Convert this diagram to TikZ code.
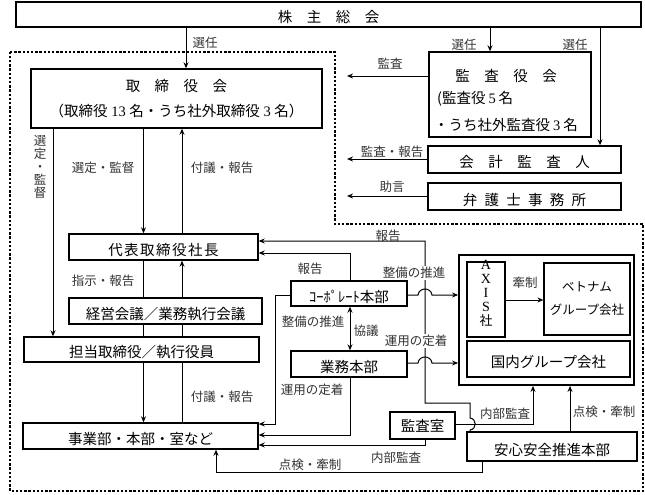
\documentclass[tikz,border=0pt]{standalone}
\usepackage{fontspec}
\setmainfont{Noto Sans CJK JP}
\newfontfamily\serifl{Liberation Serif}
\usetikzlibrary{arrows.meta}
\newcommand\dn[1]{\raisebox{-3pt}[\height][\depth]{#1}}
\begin{document}
\begin{tikzpicture}[x=1pt,y=-1pt,
  >={Stealth[length=6pt,width=5pt]},
  box/.style={draw,line width=1.4pt,inner sep=0pt,font=\fontsize{14.5}{16}\selectfont},
  lab/.style={inner sep=0pt,text=black!80,font=\fontsize{12.5}{14}\selectfont},
  wlab/.style={lab,fill=white,inner sep=1.5pt},
  btxt/.style={inner sep=0pt,font=\fontsize{14.5}{16}\selectfont},
  conn/.style={line width=1pt},
  arr/.style={conn,->},
  dbl/.style={conn,<->},
  frame/.style={line width=2.4pt,dash pattern=on 2.4pt off 1.8pt}]
\useasboundingbox (0,0) rectangle (645,495);

% dotted frame
\draw[frame] (10,52) -- (335,52) -- (335,224) -- (643,224) -- (643,491) -- (10,491) -- cycle;

% boxes
\node[box,minimum width=625pt,minimum height=25pt] (kabu) at (328.5,14.5) {\dn{株\quad 主\quad 総\quad 会}};
\node[box,minimum width=291pt,minimum height=59pt,align=center,font=\fontsize{14.5}{25}\selectfont] (tori) at (176.5,98.5)
  {取\quad 締\quad 役\quad 会\\（取締役\hspace{.25em}{\serifl 13}\hspace{.25em}名・うち社外取締役\hspace{.25em}{\serifl 3}\hspace{.25em}名）};
\node[box,minimum width=162pt,minimum height=85pt] (ksy) at (510,94.5) {};
\node[btxt] (ksy1) at (506,76) {監\quad 査\quad 役\quad 会};
\node[btxt,anchor=west] (ksy2) at (437,99) {(監査役\hspace{.2em}{\serifl 5}\hspace{.2em}名};
\node[btxt,anchor=west] (ksy3) at (434,125) {・うち社外監査役\hspace{.2em}{\serifl 3}\hspace{.2em}名};
\node[box,minimum width=193pt,minimum height=27pt] (kaikei) at (524.5,159.5) {\dn{会\quad 計\quad 監\quad 査\quad 人}};
\node[box,minimum width=193pt,minimum height=27pt] (bengo) at (524.5,196.5) {\dn{弁\enspace 護\enspace 士\enspace 事\enspace 務\enspace 所}};
\node[box,minimum width=189pt,minimum height=26pt] (daihyo) at (163.5,247) {\dn{代\kern1.5pt 表\kern1.5pt 取\kern1.5pt 締\kern1.5pt 役\kern1.5pt 社\kern1.5pt 長}};
\node[box,minimum width=193pt,minimum height=26pt] (keiei) at (165.5,311) {\dn{経営会議／業務執行会議}};
\node[box,minimum width=235pt,minimum height=25pt] (tanto) at (141.5,349.5) {\dn{担当取締役／執行役員}};
\node[box,minimum width=235pt,minimum height=26pt] (jigyo) at (140.5,436) {\dn{事業部・本部・室など}};
\node[box,minimum width=116pt,minimum height=25pt] (corp) at (349,293.5) {\dn{ｺｰﾎﾟﾚｰﾄ本部}};
\node[box,minimum width=116pt,minimum height=26pt] (gyomu) at (349,364) {\dn{業務本部}};
\node[box,minimum width=65pt,minimum height=27pt] (kshitsu) at (422.5,425.5) {監査室};
\node[box,minimum width=170pt,minimum height=29pt] (anshin) at (552,446.5) {\dn{安心安全推進本部}};
\node[box,line width=1.8pt,minimum width=175pt,minimum height=130pt] (grp) at (546.5,320) {};
\node[box,line width=1.2pt,minimum width=38pt,minimum height=75pt] (axis) at (486,299.5) {};
\node[inner sep=0pt,align=center,font=\fontsize{14}{14}\selectfont] (axist) at (486,293)
  {{\serifl A}\\{\serifl X}\\{\serifl I}\\{\serifl S}\\{\fontsize{13}{14}\selectfont 社}};
\node[box,line width=1.2pt,minimum width=86pt,minimum height=72pt,align=center,font=\fontsize{12.5}{23}\selectfont] (viet) at (587,299) {ベトナム\\グループ会社};
\node[box,line width=1.2pt,minimum width=163pt,minimum height=36pt] (koku) at (548.5,359) {\dn{国内グループ会社}};

% free ends
\coordinate (e1) at (347,76);
\coordinate (e2) at (347,159);
\coordinate (e3) at (347,196);

% connectors
\draw[arr] (kabu.south -| 186,0) -- (tori.north -| 186,0);
\draw[arr] (kabu.south -| 490,0) -- (ksy.north -| 490,0);
\draw[arr] (kabu.south -| 600,0) -- (kaikei.north -| 600,0);
\draw[arr] (ksy.west |- e1) -- (e1);
\draw[arr] (kaikei.west |- e2) -- (e2);
\draw[arr] (bengo.west |- e3) -- (e3);

\draw[arr] (tori.south -| 143.5,0) -- (daihyo.north -| 143.5,0);
\draw[arr] (daihyo.north -| 182,0) -- (tori.south -| 182,0);
\draw[arr] (tori.south -| 53,0) -- (tanto.north -| 53,0);

\draw[conn] (daihyo.south -| 143.5,0) -- (keiei.north -| 143.5,0);
\draw[conn] (keiei.south -| 143.5,0) -- (tanto.north -| 143.5,0);
\draw[arr] (tanto.south -| 143.5,0) -- (jigyo.north -| 143.5,0);
\draw[conn] (jigyo.north -| 182,0) -- (tanto.south -| 182,0);
\draw[conn] (tanto.north -| 182,0) -- (keiei.south -| 182,0);
\draw[arr] (keiei.north -| 182,0) -- (daihyo.south -| 182,0);

\draw[arr] (corp.north -| 350,0) -- (350,253) -- (daihyo.east |- 0,253);
\draw[arr] (anshin.north -| 470,0) -- (470,430) .. controls (477,429) and (477,419) .. (470,418)
  -- (470,403) -- (425,403) -- (425,241) -- (daihyo.east |- 0,241);
\draw[arr] (corp.west |- 0,295) -- (275,295) -- (275,424) -- (jigyo.east |- 0,424);
\draw[dbl] (corp.south -| 350,0) -- (gyomu.north -| 350,0);
\draw[arr] (gyomu.south -| 350,0) -- (350,435) -- (jigyo.east |- 0,435);
\draw[arr] (corp.east |- 0,295) -- (418,295) .. controls (419,287) and (431,287) .. (432,295) -- (grp.west |- 0,295);
\draw[arr] (gyomu.east |- 0,363) -- (418,363) .. controls (419,355) and (431,355) .. (432,363) -- (grp.west |- 0,363);
\draw[arr] (axis.east |- 0,300) -- (viet.west |- 0,300);
\draw[arr] (kshitsu.east |- 0,424) -- (533,424) -- (grp.south -| 533,0);
\draw[arr] (anshin.north -| 570,0) -- (grp.south -| 570,0);
\draw[arr] (kshitsu.south -| 425,0) -- (425,445) -- (jigyo.east |- 0,445);
\draw[arr] (anshin.south -| 482,0) -- (482,472) -- (216,472) -- (jigyo.south -| 216,0);

% labels
\node[lab] (l1) at (205,43) {選任};
\node[lab] (l2) at (464,45) {選任};
\node[lab] (l3) at (575,45) {選任};
\node[lab] (l4) at (390,64) {監査};
\node[lab] (l5) at (392,152) {監査・報告};
\node[lab] (l6) at (392,187) {助言};
\node[lab] (l7) at (103,168) {選定・監督};
\node[lab] (l8) at (222,168) {付議・報告};
\node[lab,align=center,font=\fontsize{12.5}{13}\selectfont] (l9) at (40,167) {選\\定\\・\\監\\督};
\node[lab] (l10) at (103,281) {指示・報告};
\node[lab] (l11) at (222,397) {付議・報告};
\node[lab] (l12) at (388,236) {報告};
\node[lab] (l13) at (310,269) {報告};
\node[wlab] (l14) at (414,273) {整備の推進};
\node[lab] (l15) at (313,322) {整備の推進};
\node[lab] (l16) at (366,331) {協議};
\node[wlab] (l17) at (416,341) {運用の定着};
\node[lab] (l18) at (312,390) {運用の定着};
\node[lab] (l19) at (525,283) {牽制};
\node[lab] (l20) at (505,414) {内部監査};
\node[lab] (l21) at (604,412) {点検・牽制};
\node[lab] (l22) at (396,458) {内部監査};
\node[lab] (l23) at (310,465) {点検・牽制};
\end{tikzpicture}
\end{document}
